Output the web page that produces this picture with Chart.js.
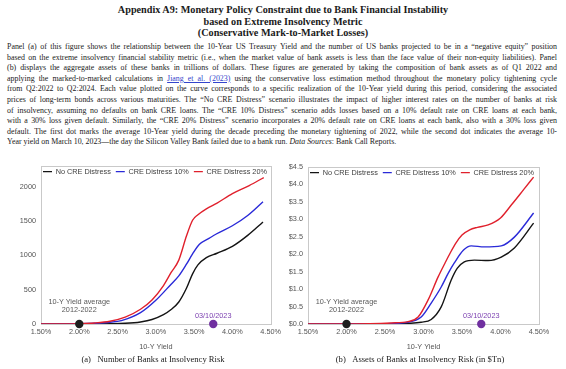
<!DOCTYPE html>
<html>
<head>
<meta charset="utf-8">
<script src="https://cdn.jsdelivr.net/npm/chart.js@4.4.1/dist/chart.umd.min.js"></script>
<style>
  html, body { margin:0; padding:0; background:#fff; }
  body { width:566px; height:369px; position:relative; overflow:hidden; font-family:"Liberation Serif","Times New Roman",serif; color:#1a1a1a; }
  #title { position:absolute; left:0; top:4px; width:566px; text-align:center; font-weight:bold; font-size:10.2px; line-height:11.6px; }
  #para { position:absolute; left:7px; top:42px; width:550px; font-size:7.9px; line-height:10.6px; }
  #para div { text-align:justify; text-align-last:justify; }
  #para div.last { text-align-last:left; }
  #para a { color:#3344cc; text-decoration:underline; }
  canvas { position:absolute; }
  .ann { position:absolute; font-family:"Liberation Sans",Arial,sans-serif; font-size:7.3px; line-height:7.6px; color:#595959; text-align:center; white-space:nowrap; transform:translateX(-50%); }
  .ann.svb { color:#7b3fb0; }
  .cap { position:absolute; top:354px; font-size:8.6px; line-height:10px; white-space:nowrap; transform:translateX(-50%); }
</style>
</head>
<body>
<div id="title">Appendix A9: Monetary Policy Constraint due to Bank Financial Instability<br>based on Extreme Insolvency Metric<br>(Conservative Mark-to-Market Losses)</div>
<div id="para">
<div>Panel (a) of this figure shows the relationship between the 10-Year US Treasury Yield and the number of US banks projected to be in a “negative equity” position</div>
<div>based on the extreme insolvency financial stability metric (i.e., when the market value of bank assets is less than the face value of their non-equity liabilities). Panel</div>
<div>(b) displays the aggregate assets of these banks in trillions of dollars. These figures are generated by taking the composition of bank assets as of Q1 2022 and</div>
<div>applying the marked-to-marked calculations in <a>Jiang et al. (2023)</a> using the conservative loss estimation method throughout the monetary policy tightening cycle</div>
<div>from Q2:2022 to Q2:2024. Each value plotted on the curve corresponds to a specific realization of the 10-Year yield during this period, considering the associated</div>
<div>prices of long-term bonds across various maturities. The “No CRE Distress” scenario illustrates the impact of higher interest rates on the number of banks at risk</div>
<div>of insolvency, assuming no defaults on bank CRE loans. The “CRE 10% Distress” scenario adds losses based on a 10% default rate on CRE loans at each bank,</div>
<div>with a 30% loss given default. Similarly, the “CRE 20% Distress” scenario incorporates a 20% default rate on CRE loans at each bank, also with a 30% loss given</div>
<div>default. The first dot marks the average 10-Year yield during the decade preceding the monetary tightening of 2022, while the second dot indicates the average 10-</div>
<div class="last">Year yield on March 10, 2023—the day the Silicon Valley Bank failed due to a bank run. <i>Data Sources</i>: Bank Call Reports.</div>
</div>

<canvas id="chartA" width="285" height="200" style="left:0px;top:155px;"></canvas>
<canvas id="chartB" width="281" height="200" style="left:285px;top:155px;"></canvas>

<div class="cap" style="left:153px;">(a)&nbsp;&nbsp;&nbsp;Number of Banks at Insolvency Risk</div>
<div class="cap" style="left:420px;">(b)&nbsp;&nbsp;&nbsp;Assets of Banks at Insolvency Risk (in $Tn)</div>

<script>
// ---------- shared labels ----------
const seriesNames = ['No CRE Distress', 'CRE Distress 10%', 'CRE Distress 20%'];
const xAxisTitle = '10-Y Yield';
const avgLabel = ['10-Y Yield average', '2012-2022'];
const svbLabel = '03/10/2023';
const dotYields = [2.0, 3.75];      // avg 2012-2022, 03/10/2023
const dotValues = [0, 0];

// ---------- panel (a): number of banks ----------
const aNoCreX = [1.5, 2.0, 2.4, 2.6, 2.8, 2.95, 3.1, 3.2, 3.3, 3.4, 3.48, 3.55, 3.66, 3.8, 4.0, 4.2, 4.4];
const aNoCreY = [0, 1, 4, 10, 30, 65, 135, 210, 320, 520, 730, 860, 965, 1030, 1130, 1290, 1485];
const aCre10X = [1.5, 1.8, 2.0, 2.2, 2.4, 2.55, 2.8, 3.0, 3.2, 3.3, 3.4, 3.48, 3.57, 3.7, 3.79, 4.0, 4.2, 4.4];
const aCre10Y = [0, 1, 3, 10, 25, 50, 165, 345, 580, 700, 870, 1020, 1160, 1250, 1310, 1430, 1580, 1780];
const aCre20X = [1.5, 1.8, 2.0, 2.2, 2.4, 2.6, 2.8, 2.95, 3.1, 3.2, 3.3, 3.4, 3.48, 3.55, 3.66, 3.8, 4.0, 4.22, 4.41];
const aCre20Y = [0, 2, 5, 15, 40, 100, 215, 350, 560, 750, 930, 1280, 1510, 1590, 1676, 1760, 1897, 2015, 2132];
const aYTicks = [0, 500, 1000, 1500, 2000];

// ---------- panel (b): assets, $ trillions ----------
const bNoCreX = [1.5, 2.5, 2.8, 2.97, 3.1, 3.23, 3.36, 3.44, 3.53, 3.66, 3.84, 4.01, 4.18, 4.43];
const bNoCreY = [0, 0.005, 0.02, 0.05, 0.13, 0.49, 1.26, 1.6, 1.78, 1.83, 1.82, 1.92, 2.18, 2.89];
const bCre10X = [1.5, 2.5, 2.8, 2.97, 3.1, 3.23, 3.32, 3.40, 3.52, 3.62, 3.79, 4.01, 4.18, 4.43];
const bCre10Y = [0, 0.01, 0.05, 0.2, 0.6, 1.06, 1.45, 1.75, 2.12, 2.24, 2.21, 2.24, 2.49, 3.18];
const bCre20X = [1.5, 2.3, 2.58, 2.8, 2.93, 3.06, 3.19, 3.28, 3.35, 3.42, 3.5, 3.6, 3.7, 3.84, 4.0, 4.14, 4.3, 4.43];
const bCre20Y = [0, 0.01, 0.03, 0.07, 0.2, 0.69, 1.35, 1.75, 2.05, 2.32, 2.55, 2.7, 2.77, 2.84, 3.04, 3.41, 3.85, 4.21];
const bYTicks = [0, 0.5, 1.0, 1.5, 2.0, 2.5, 3.0, 3.5, 4.0, 4.5];

// ---------- x axis (both panels) ----------
const xTicks = [1.5, 2.0, 2.5, 3.0, 3.5, 4.0, 4.5];
const aYMax = 2300, bYMax = 4.5;

// ---------- styles ----------
const COLORS = ['#141414', '#2a2ad8', '#e0202c'];
const DOT_COLORS = ['#1e1e1e', '#7030a0'];
const SANS = "'Liberation Sans', Arial, sans-serif";
Chart.defaults.font.family = SANS;
Chart.defaults.font.size = 7.3;
Chart.defaults.color = '#555';

function pts(xs, ys) { return xs.map((x, i) => ({ x: x, y: ys[i] })); }

function lineSet(i, xs, ys) {
  return {
    type: 'line', label: seriesNames[i], data: pts(xs, ys),
    borderColor: COLORS[i], backgroundColor: COLORS[i],
    borderWidth: 1.4, pointRadius: 0, pointHoverRadius: 0,
    cubicInterpolationMode: 'monotone', fill: false, order: 3 - i
  };
}
function dotSets() {
  return dotYields.map((x, i) => ({
    type: 'scatter', label: 'dot' + i, data: [{ x: x, y: dotValues[i] }],
    pointRadius: 4.2, pointHoverRadius: 4.2, backgroundColor: DOT_COLORS[i],
    borderColor: DOT_COLORS[i], borderWidth: 0, clip: false, order: 0
  }));
}

const framePlugin = {
  id: 'frame',
  beforeDatasetsDraw(chart) {
    const a = chart.chartArea, ctx = chart.ctx;
    ctx.save();
    ctx.strokeStyle = '#c9c9c9';
    ctx.lineWidth = 1;
    ctx.strokeRect(Math.round(a.left) + 0.5, Math.round(a.top) + 0.5, Math.round(a.right - a.left), Math.round(a.bottom - a.top));
    ctx.restore();
  }
};

const legendInside = {
  id: 'legendInside',
  beforeUpdate(chart) {
    const L = chart.legend;
    if (L && !L.__h) { L.isHorizontal = () => true; L.__h = true; }
  },
  afterLayout(chart) {
    const L = chart.legend, a = chart.chartArea;
    if (!L) return;
    L.left = a.left - 3;
    L.right = a.right + 14;
    L.top = a.top - 3;
    L.bottom = L.top + L.height;
    if (L.adjustHitBoxes) L.adjustHitBoxes();
  }
};

function makeChart(id, sets, yMax, yTicks, yFmt, yWidth, pad) {
  return new Chart(document.getElementById(id), {
    type: 'line',
    data: { datasets: sets.concat(dotSets()) },
    plugins: [framePlugin, legendInside],
    options: {
      responsive: false, animation: false, events: [],
      layout: { padding: pad },
      plugins: {
        tooltip: { enabled: false },
        legend: {
          position: 'chartArea', align: 'start',
          labels: {
            filter: (item) => item.datasetIndex < 3,
            sort: (p, q) => p.datasetIndex - q.datasetIndex,
            usePointStyle: true, pointStyle: 'line', pointStyleWidth: 9,
            padding: 5, color: '#404040', font: { size: 7.3, family: SANS }
          }
        }
      },
      scales: {
        x: {
          type: 'linear', min: xTicks[0], max: xTicks[xTicks.length - 1],
          grid: { display: false, drawTicks: false },
          border: { display: false },
          ticks: { padding: 4, maxRotation: 0, autoSkip: false, color: '#555',
                   callback: (v) => v.toFixed(2) + '%' },
          afterBuildTicks: (s) => { s.ticks = xTicks.map(v => ({ value: v })); },
          title: { display: true, text: xAxisTitle, color: '#555', font: { size: 7.3 }, padding: { top: 2, bottom: 4 } },
          afterFit: (s) => { s.height = 31; }
        },
        y: {
          type: 'linear', min: 0, max: yMax,
          grid: { display: false, drawTicks: false },
          border: { display: false },
          ticks: { padding: 5, autoSkip: false, color: '#555', callback: yFmt },
          afterBuildTicks: (s) => { s.ticks = yTicks.map(v => ({ value: v })); },
          afterFit: (s) => { s.width = yWidth; }
        }
      }
    }
  });
}

const chartA = makeChart('chartA',
  [lineSet(0, aNoCreX, aNoCreY), lineSet(1, aCre10X, aCre10Y), lineSet(2, aCre20X, aCre20Y)],
  aYMax, aYTicks, (v) => String(v), 41, { left: 0, right: 13, top: 11, bottom: 0 });

const chartB = makeChart('chartB',
  [lineSet(0, bNoCreX, bNoCreY), lineSet(1, bCre10X, bCre10Y), lineSet(2, bCre20X, bCre20Y)],
  bYMax, bYTicks, (v) => '$' + v.toFixed(1), 23, { left: 0, right: 27, top: 12, bottom: 0 });

// annotation labels next to the dots, placed from the chart scales
function annotate(chart, canvasId) {
  const c = document.getElementById(canvasId);
  const ox = parseFloat(c.style.left), oy = parseFloat(c.style.top);
  const xs = chart.scales.x, ys = chart.scales.y;
  const y0 = oy + ys.getPixelForValue(0);
  const a1 = document.createElement('div');
  a1.className = 'ann';
  a1.innerHTML = avgLabel[0] + '<br>' + avgLabel[1];
  a1.style.left = (ox + xs.getPixelForValue(dotYields[0])) + 'px';
  a1.style.top = (y0 - 26) + 'px';
  document.body.appendChild(a1);
  const a2 = document.createElement('div');
  a2.className = 'ann svb';
  a2.textContent = svbLabel;
  a2.style.left = (ox + xs.getPixelForValue(dotYields[1])) + 'px';
  a2.style.top = (y0 - 12) + 'px';
  document.body.appendChild(a2);
}
annotate(chartA, 'chartA');
annotate(chartB, 'chartB');
</script>
</body>
</html>
